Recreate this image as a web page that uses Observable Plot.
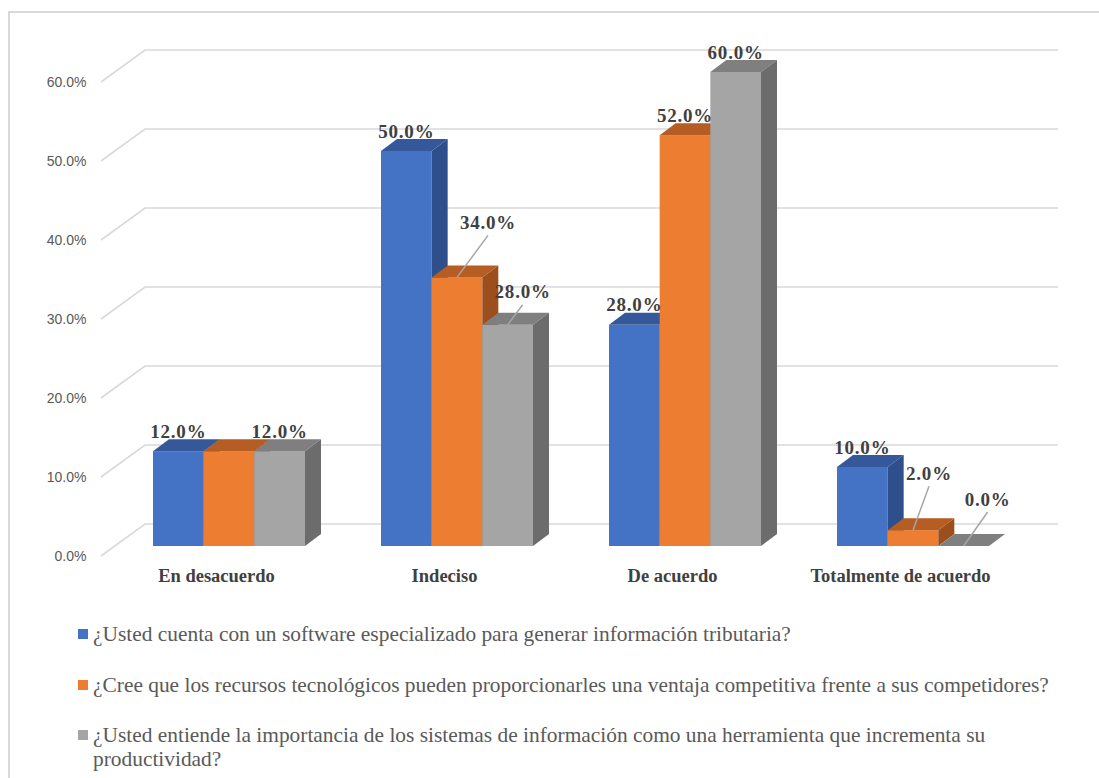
<!DOCTYPE html>
<html>
<head>
<meta charset="utf-8">
<script src="https://cdn.jsdelivr.net/npm/d3@7"></script>
<script src="https://cdn.jsdelivr.net/npm/@observablehq/plot@0.6"></script>
<style>
  html, body { margin: 0; padding: 0; background: #fff; overflow: hidden; width: 1099px; height: 778px; }
  #frame { position: absolute; left: 8px; top: 11px; width: 1300px; height: 1000px; border-top: 2px solid #d9d9d9; border-left: 2px solid #d9d9d9; }
  #chart { position: absolute; left: 0; top: 0; }
  #legend { position: absolute; left: 78px; top: 622px; font-family: "Liberation Serif", "Times New Roman", serif; font-size: 21.4px; color: #595959; }
  .item { position: relative; padding-left: 15px; width: 1000px; line-height: 24px; margin-bottom: 26.5px; }
  .sw { position: absolute; left: 0; top: 7px; width: 10px; height: 10px; }
</style>
</head>
<body>
<div id="frame"></div>
<div id="chart"></div>
<div id="legend"></div>
<script>
// ---- data ----
const categories = ["En desacuerdo", "Indeciso", "De acuerdo", "Totalmente de acuerdo"];
const seriesNames = [
  "¿Usted cuenta con un software especializado para generar información tributaria?",
  "¿Cree que los recursos tecnológicos pueden proporcionarles una ventaja competitiva frente a sus competidores?",
  "¿Usted entiende la importancia de los sistemas de información como una herramienta que incrementa su productividad?"
];
const softwareValues = [0.12, 0.50, 0.28, 0.10];
const recursosValues = [0.12, 0.34, 0.52, 0.02];
const sistemasValues = [0.12, 0.28, 0.60, 0.00];
const yTicks = [0, 0.1, 0.2, 0.3, 0.4, 0.5, 0.6];

// ---- styling ----
const seriesValues = [softwareValues, recursosValues, sistemasValues];
const seriesStyle = [
  {front: "#4472C4", top: "#34589A", side: "#2E4F8C"},
  {front: "#ED7D31", top: "#B55D22", side: "#9C4E1C"},
  {front: "#A5A5A5", top: "#7F7F7F", side: "#6C6C6C"}
];
const DX = 16, DY = 12;          // bar depth (px)
const WALL_DX = 44, WALL_DY = 32; // floor depth to back wall (px)
const FRONT_DY = 10;             // floor front edge below bar front plane
const hiddenLabels = ["En desacuerdo|1"];
const labelNudge = {
  "Indeciso|1": {dx: 31, dy: -55, leader: true},
  "Indeciso|2": {dx: 15, dy: -33, leader: true},
  "Totalmente de acuerdo|1": {dx: 16, dy: -57, leader: true},
  "Totalmente de acuerdo|2": {dx: 24, dy: -47, leader: true}
};
const pct = d3.format(".1%");
const serif = "'Liberation Serif', 'Times New Roman', serif";

const W = 1099, H = 600;

function bandw(x) {
  return typeof x.bandwidth === "function" ? x.bandwidth() : (x.bandwidth || 0);
}

function grid(index, scales, values, dims) {
  const y = scales.y;
  const left = dims.marginLeft, right = dims.width - dims.marginRight;
  const g = d3.create("svg:g");
  for (const t of yTicks) {
    const yy = y(t);
    g.append("path")
      .attr("d", `M${left - WALL_DX},${yy + FRONT_DY}L${left},${yy + FRONT_DY - WALL_DY}L${right},${yy + FRONT_DY - WALL_DY}`)
      .attr("fill", "none").attr("stroke", "#d9d9d9").attr("stroke-width", 1.6);
  }
  return g.node();
}

function bars3d(index, scales) {
  const x = scales.x, y = scales.y;
  const w = bandw(x) / seriesValues.length;
  const g = d3.create("svg:g");
  categories.forEach((c, i) => {
    seriesValues.forEach((vals, s) => {
      const v = vals[i];
      const x0 = x(c) + s * w, x1 = x0 + w, yt = y(v), yb = y(0);
      const st = seriesStyle[s];
      if (yb - yt > 0) g.append("rect").attr("x", x0).attr("y", yt).attr("width", w).attr("height", yb - yt).attr("fill", st.front);
      g.append("path").attr("d", `M${x0},${yt}L${x0 + DX},${yt - DY}L${x1 + DX},${yt - DY}L${x1},${yt}Z`).attr("fill", st.top);
      g.append("path").attr("d", `M${x1},${yt}L${x1 + DX},${yt - DY}L${x1 + DX},${yb - DY}L${x1},${yb}Z`).attr("fill", st.side);
    });
  });
  return g.node();
}

function dataLabels(index, scales) {
  const x = scales.x, y = scales.y;
  const w = bandw(x) / seriesValues.length;
  const g = d3.create("svg:g");
  categories.forEach((c, i) => {
    seriesValues.forEach((vals, s) => {
      const key = c + "|" + s;
      if (hiddenLabels.includes(key)) return;
      const v = vals[i];
      const cx = x(c) + s * w + w / 2, yt = y(v);
      const n = labelNudge[key] || {dx: 0, dy: -20};
      const lx = cx + n.dx, ly = yt + n.dy;
      if (n.leader) {
        g.append("line").attr("x1", lx).attr("y1", ly + 13).attr("x2", cx).attr("y2", yt)
          .attr("stroke", "#a6a6a6").attr("stroke-width", 1.5);
      }
      g.append("text").attr("x", lx).attr("y", ly).attr("dy", "0.35em")
        .attr("text-anchor", "middle").attr("font-family", serif).attr("font-weight", "bold")
        .attr("font-size", 19).attr("letter-spacing", "0.8px").attr("fill", "#404040")
        .text(pct(v));
    });
  });
  return g.node();
}

const chart = Plot.plot({
  width: W,
  height: H,
  marginLeft: 145,
  marginRight: 41,
  marginTop: 72,
  marginBottom: H - 546,
  style: {background: "transparent", overflow: "visible"},
  x: {type: "band", domain: categories, range: [153, 989], paddingInner: 1 / 3, paddingOuter: 0, axis: null},
  y: {domain: [0, 0.6], axis: null},
  marks: [
    grid,
    Plot.text(yTicks, {
      y: d => d, text: d => pct(d), frameAnchor: "left", dx: -59, dy: 10,
      textAnchor: "end", fill: "#595959", fontSize: 14,
      fontFamily: "'Liberation Sans', Arial, sans-serif"
    }),
    bars3d,
    dataLabels,
    Plot.text(categories, {
      x: d => d, text: d => d, frameAnchor: "bottom", dx: -13, dy: 35,
      fontWeight: "bold", fontSize: 18.5, fontFamily: serif, fill: "#404040"
    })
  ]
});
document.getElementById("chart").appendChild(chart);

// legend
const legend = d3.select("#legend");
seriesNames.forEach((name, s) => {
  const it = legend.append("div").attr("class", "item");
  it.append("span").attr("class", "sw").style("background", seriesStyle[s].front);
  it.append("span").text(name);
});
</script>
</body>
</html>
